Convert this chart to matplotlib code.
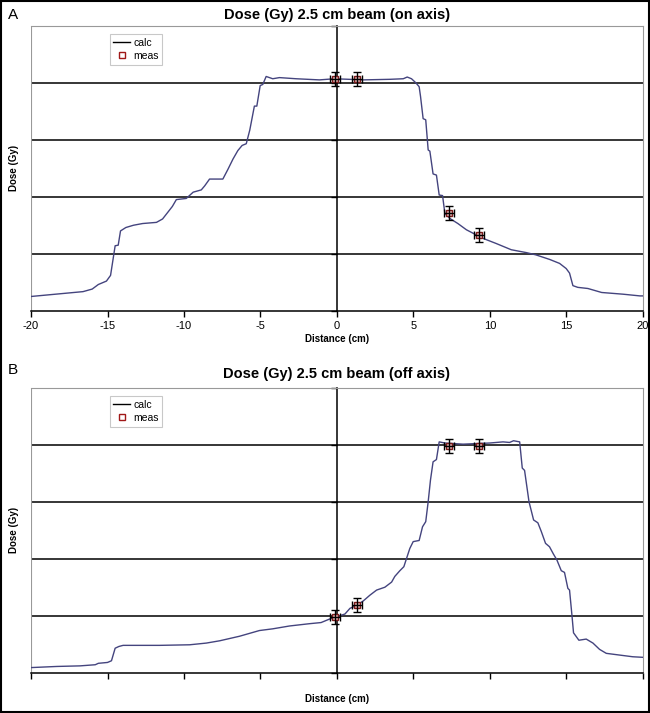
import matplotlib
matplotlib.use("Agg")
import matplotlib.pyplot as plt
from matplotlib.patches import Rectangle
from matplotlib.lines import Line2D

plt.rcParams['font.family'] = ['Liberation Sans', 'DejaVu Sans']

# Panel A - on axis
calc_a_x = [-20.0, -16.6, -16.0, -15.6, -15.07, -14.8, -14.5, -14.3, -14.15, -13.8, -13.3, -12.7,
            -11.8, -11.4, -11.05, -10.76, -10.5, -9.85, -9.4, -8.87, -8.65, -8.33, -7.46, -7.13,
            -6.8, -6.48, -6.2, -5.93, -5.7, -5.4, -5.24, -5.02, -4.85, -4.63, -4.2, -3.76, -2.67,
            -1.15, -0.15, 1.72, 3.46, 4.33, 4.59, 4.87, 5.15, 5.37, 5.46, 5.63, 5.8, 5.96, 6.07,
            6.28, 6.5, 6.68, 6.9, 7.05, 7.37, 7.9, 8.46, 8.89, 9.54, 10.4, 11.39, 12.37, 13.0,
            13.9, 14.55, 14.98, 15.2, 15.42, 15.74, 16.4, 17.3, 18.7, 19.8, 20.0]
calc_a_y = [0.26, 0.345, 0.39, 0.47, 0.53, 0.63, 1.15, 1.16, 1.41, 1.47, 1.51, 1.54,
            1.56, 1.62, 1.74, 1.84, 1.96, 1.98, 2.09, 2.13, 2.20, 2.32, 2.32, 2.49,
            2.67, 2.82, 2.91, 2.94, 3.18, 3.60, 3.60, 3.96, 3.98, 4.12, 4.08, 4.10, 4.08,
            4.06, 4.08, 4.06, 4.07, 4.08, 4.11, 4.08, 4.01, 3.94, 3.77, 3.38, 3.36, 2.83, 2.81,
            2.41, 2.39, 2.04, 2.03, 1.72, 1.63, 1.54, 1.43, 1.37, 1.28, 1.19, 1.08, 1.03, 0.99,
            0.91, 0.84, 0.75, 0.67, 0.45, 0.42, 0.40, 0.33, 0.30, 0.27, 0.27]
meas_a_x = [-0.15, 1.32, 7.3, 9.28]
meas_a_y = [4.08, 4.08, 1.72, 1.34]

# Panel B - off axis
calc_b_x = [-20.0, -18.3, -16.8, -15.8, -15.6, -15.0, -14.74, -14.5, -14.26, -13.98, -13.1, -11.6,
            -9.63, -8.54, -7.67, -6.37, -5.07, -4.2, -3.1, -1.8, -1.04, -0.5, -0.15, 0.52, 0.85,
            1.28, 1.72, 2.15, 2.59, 3.13, 3.57, 3.78, 4.11, 4.37, 4.54, 4.76, 4.98, 5.37, 5.59,
            5.8, 5.96, 6.11, 6.28, 6.5, 6.68, 7.05, 8.24, 9.98, 10.85, 11.28, 11.54, 11.94, 12.11,
            12.26, 12.55, 12.85, 13.13, 13.35, 13.63, 13.89, 14.15, 14.37, 14.66, 14.87, 15.09,
            15.2, 15.37, 15.46, 15.81, 16.29, 16.73, 17.16, 17.6, 18.46, 19.33, 20.0]
calc_b_y = [0.10, 0.12, 0.13, 0.15, 0.175, 0.19, 0.22, 0.44, 0.47, 0.49, 0.49, 0.49,
            0.50, 0.53, 0.57, 0.65, 0.75, 0.78, 0.83, 0.87, 0.89, 0.95, 0.98, 1.04, 1.14,
            1.19, 1.27, 1.37, 1.46, 1.51, 1.60, 1.70, 1.80, 1.87, 2.01, 2.19, 2.31, 2.33, 2.57,
            2.66, 3.01, 3.39, 3.71, 3.75, 4.06, 4.04, 4.02, 4.04, 4.06, 4.05, 4.08, 4.06, 3.60,
            3.56, 3.01, 2.69, 2.64, 2.49, 2.28, 2.22, 2.09, 1.99, 1.80, 1.77, 1.49,
            1.46, 0.98, 0.71, 0.58, 0.60, 0.53, 0.42, 0.35, 0.32, 0.29, 0.28]
meas_b_x = [-0.13, 1.32, 7.3, 9.28]
meas_b_y = [0.99, 1.20, 3.99, 3.99]

x_ticks = [-20, -15, -10, -5, 0, 5, 10, 15, 20]
y_ticks = [0, 1, 2, 3, 4, 5]
grid_levels = [1, 2, 3, 4]
err_x = 0.33
err_y = 0.12


def draw_panel(ax, cx, cy, mx, my, show_labels):
    for g in grid_levels:
        ax.axhline(g, color='black', lw=1.1, zorder=1)
    ax.axvline(-20, color='#999999', lw=0.8, zorder=1)
    ax.plot(cx, cy, color='#44447e', lw=1.0, zorder=3)
    ax.plot(mx, my, 's', ms=5, mfc='#e8b8b8', mec='#7a1a1a', mew=1.0, zorder=4)
    ax.errorbar(mx, my, xerr=err_x, yerr=err_y, fmt='none', ecolor='black',
                elinewidth=1.0, capsize=3, capthick=1.0, zorder=5)
    ax.set_xlim(-20, 20)
    ax.set_ylim(0, 5)
    ax.set_xticks(x_ticks)
    ax.set_yticks(y_ticks)
    ax.set_yticklabels([])
    if show_labels:
        ax.set_xticklabels([str(t) for t in x_ticks], fontsize=8)
    else:
        ax.set_xticklabels([])
    ax.tick_params(axis='x', direction='out', length=4, width=1, pad=3)
    ax.tick_params(axis='y', direction='out', length=4, width=1)
    ax.spines['left'].set_position(('data', 0))
    ax.spines['left'].set_color('black')
    ax.spines['left'].set_linewidth(1.1)
    for side in ['top', 'right']:
        ax.spines[side].set_color('#999999')
        ax.spines[side].set_linewidth(0.8)
    ax.spines['bottom'].set_color('black')
    ax.spines['bottom'].set_linewidth(1.1)
    ax.set_xlabel('Distance (cm)', fontsize=7, fontweight='bold',
                  labelpad=2 if show_labels else 8)
    handles = [Line2D([], [], color='black', lw=1.0),
               Line2D([], [], ls='none', marker='s', ms=5, mfc='white', mec='#a01818', mew=1.0)]
    leg = ax.legend(handles, ['calc', 'meas'], loc='upper left', bbox_to_anchor=(0.12, 0.99),
                    fontsize=7.5, frameon=True, fancybox=False, edgecolor='#bbbbbb',
                    handlelength=1.6, handletextpad=0.3, borderpad=0.35, labelspacing=0.3)
    leg.get_frame().set_linewidth(0.8)


fig = plt.figure(figsize=(6.5, 7.13), dpi=100)
ax_a = fig.add_axes([0.0477, 0.5634, 0.9415, 0.3997])
ax_b = fig.add_axes([0.0477, 0.0557, 0.9415, 0.3997])

draw_panel(ax_a, calc_a_x, calc_a_y, meas_a_x, meas_a_y, True)
draw_panel(ax_b, calc_b_x, calc_b_y, meas_b_x, meas_b_y, False)

fig.text(0.518, 1 - 15 / 713, 'Dose (Gy) 2.5 cm beam (on axis)', fontsize=10.5,
         fontweight='bold', ha='center', va='center')
fig.text(0.518, 1 - 374 / 713, 'Dose (Gy) 2.5 cm beam (off axis)', fontsize=10.5,
         fontweight='bold', ha='center', va='center')
fig.text(0.021, 1 - 168 / 713, 'Dose (Gy)', fontsize=7, fontweight='bold', rotation=90,
         ha='center', va='center')
fig.text(0.021, 1 - 530 / 713, 'Dose (Gy)', fontsize=7, fontweight='bold', rotation=90,
         ha='center', va='center')
fig.text(0.012, 1 - 15 / 713, 'A', fontsize=11, va='center')
fig.text(0.012, 1 - 370 / 713, 'B', fontsize=11, va='center')
fig.patches.append(Rectangle((0.002, 0.002), 0.996, 0.996, transform=fig.transFigure,
                             fill=False, edgecolor='black', lw=1.5))

fig.savefig('out.png', dpi=100)
